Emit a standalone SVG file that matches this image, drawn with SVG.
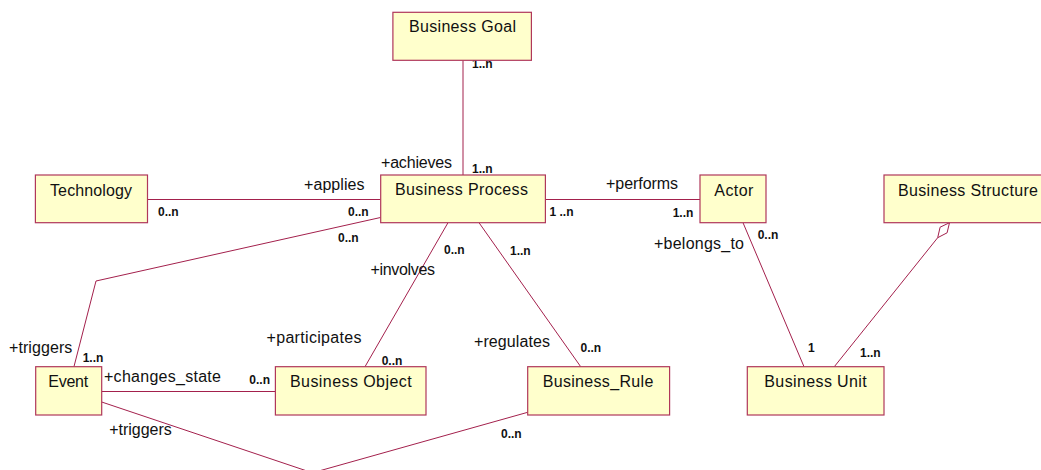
<svg xmlns="http://www.w3.org/2000/svg" width="1041" height="470" viewBox="0 0 1041 470">
<style>
.box{fill:#FFFFCC;stroke:#B0375A;stroke-width:1.2}
.ln{fill:none;stroke:#A3204C;stroke-width:1}
.nm{font-family:"Liberation Sans",Arial,sans-serif;font-size:16px;fill:#111}
.rl{font-family:"Liberation Sans",Arial,sans-serif;font-size:16px;fill:#111}
.mu{font-family:"Liberation Sans",Arial,sans-serif;font-size:12px;font-weight:bold;fill:#111}
</style>
<rect width="1041" height="470" fill="#FFFFFF"/>
<g id="connectors">
<line class="ln" x1="463" y1="60.5" x2="463" y2="175"/>
<line class="ln" x1="147.5" y1="199.5" x2="380.5" y2="199.5"/>
<line class="ln" x1="545.5" y1="199.5" x2="700" y2="199.5"/>
<polyline class="ln" points="380.5,217.5 96,281 74,366.5"/>
<line class="ln" x1="448" y1="222.7" x2="365" y2="366.7"/>
<line class="ln" x1="479" y1="222.7" x2="580.7" y2="366.7"/>
<line class="ln" x1="743" y1="222.7" x2="804" y2="366.7"/>
<polygon class="ln" points="949.5,222.7 947.1,232.8 937.7,237.7 940.1,227.2" fill="#FFFFFF"/>
<line class="ln" x1="937.7" y1="237.7" x2="834.3" y2="366.7"/>
<line class="ln" x1="101.7" y1="391.5" x2="275.4" y2="391.5"/>
<line class="ln" x1="101.7" y1="402" x2="312.4" y2="472.8"/>
<line class="ln" x1="527.7" y1="412.3" x2="312.4" y2="472.8"/>
</g>
<g id="labels">
<text class="rl" x="381" y="168" textLength="71" lengthAdjust="spacing">+achieves</text>
<text class="rl" x="304" y="190" textLength="60.6" lengthAdjust="spacing">+applies</text>
<text class="rl" x="606" y="189.3" textLength="72" lengthAdjust="spacing">+performs</text>
<text class="rl" x="654" y="249" textLength="90" lengthAdjust="spacing">+belongs_to</text>
<text class="rl" x="370.5" y="275" textLength="64.5" lengthAdjust="spacing">+involves</text>
<text class="rl" x="9" y="352.7" textLength="63.3" lengthAdjust="spacing">+triggers</text>
<text class="rl" x="266.5" y="342.7" textLength="95" lengthAdjust="spacing">+participates</text>
<text class="rl" x="474" y="347.3" textLength="76" lengthAdjust="spacing">+regulates</text>
<text class="rl" x="104" y="381.7" textLength="117" lengthAdjust="spacing">+changes_state</text>
<text class="rl" x="109.3" y="435" textLength="62.4" lengthAdjust="spacing">+triggers</text>
<text class="mu" x="472" y="68">1..n</text>
<text class="mu" x="472" y="173">1..n</text>
<text class="mu" x="158" y="216">0..n</text>
<text class="mu" x="348" y="216">0..n</text>
<text class="mu" x="549.5" y="215.7">1 ..n</text>
<text class="mu" x="672.7" y="216.7">1..n</text>
<text class="mu" x="757.7" y="239">0..n</text>
<text class="mu" x="808" y="352">1</text>
<text class="mu" x="860" y="356.7">1..n</text>
<text class="mu" x="338" y="241.7">0..n</text>
<text class="mu" x="444" y="254.3">0..n</text>
<text class="mu" x="510" y="255">1..n</text>
<text class="mu" x="381.7" y="365">0..n</text>
<text class="mu" x="580.5" y="351.7">0..n</text>
<text class="mu" x="82.7" y="361.7">1..n</text>
<text class="mu" x="249.3" y="384.3">0..n</text>
<text class="mu" x="501" y="438">0..n</text>
</g>
<g id="business-goal">
<rect class="box" x="392.9" y="12.3" width="138.5" height="48"/>
<text class="nm" x="409" y="32.3" textLength="107" lengthAdjust="spacing">Business Goal</text>
</g>
<g id="technology">
<rect class="box" x="35.4" y="175" width="112.1" height="47.7"/>
<text class="nm" x="50" y="195.5" textLength="82" lengthAdjust="spacing">Technology</text>
</g>
<g id="business-process">
<rect class="box" x="380.7" y="175" width="164.7" height="47.7"/>
<text class="nm" x="395" y="194.5" textLength="133" lengthAdjust="spacing">Business Process</text>
</g>
<g id="actor">
<rect class="box" x="700" y="175" width="66" height="47.7"/>
<text class="nm" x="714.3" y="195.5" textLength="39" lengthAdjust="spacing">Actor</text>
</g>
<g id="business-structure">
<rect class="box" x="884" y="175" width="165" height="47.7"/>
<text class="nm" x="898" y="195.5" textLength="140" lengthAdjust="spacing">Business Structure</text>
</g>
<g id="event">
<rect class="box" x="35.7" y="366.7" width="66" height="48.3"/>
<text class="nm" x="48.2" y="387.3" textLength="40" lengthAdjust="spacing">Event</text>
</g>
<g id="business-object">
<rect class="box" x="275.4" y="366.7" width="150.6" height="48.3"/>
<text class="nm" x="290" y="387.3" textLength="121.6" lengthAdjust="spacing">Business Object</text>
</g>
<g id="business-rule">
<rect class="box" x="527.7" y="366.7" width="141.9" height="48.3"/>
<text class="nm" x="542.7" y="387.3" textLength="110.6" lengthAdjust="spacing">Business_Rule</text>
</g>
<g id="business-unit">
<rect class="box" x="747.3" y="366.7" width="136.7" height="48.3"/>
<text class="nm" x="764.3" y="387.3" textLength="102.4" lengthAdjust="spacing">Business Unit</text>
</g>
</svg>
